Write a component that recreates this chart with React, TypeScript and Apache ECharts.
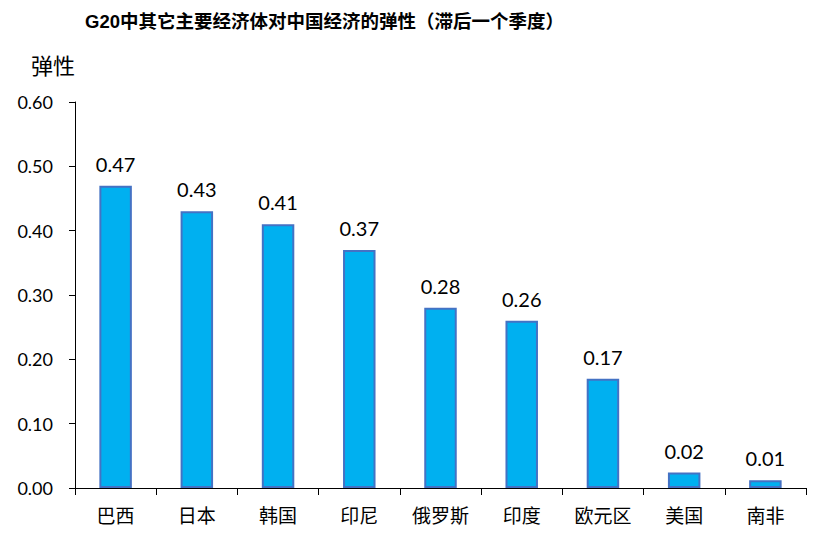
import * as React from "react";
import * as echarts from "echarts";

const CATEGORIES = ["巴西", "日本", "韩国", "印尼", "俄罗斯", "印度", "欧元区", "美国", "南非"];
const ELASTICITY = [0.47, 0.43, 0.41, 0.37, 0.28, 0.26, 0.17, 0.024, 0.012];
const Y_TICKS = { min: 0, max: 0.6, interval: 0.1 };

const TITLE = "G20中其它主要经济体对中国经济的弹性（滞后一个季度）";
const FONT = "Lato, 'Noto Sans CJK SC', sans-serif";
const CJK = "'Noto Sans CJK SC', sans-serif";

export default function App() {
  const ref = React.useRef<HTMLDivElement | null>(null);

  React.useEffect(() => {
    if (!ref.current) return;
    const chart = echarts.init(ref.current, undefined, { renderer: "svg" });
    chart.setOption({
      animation: false,
      backgroundColor: "#ffffff",
      textStyle: { fontFamily: FONT },
      title: {
        text: TITLE,
        left: 77,
        top: 4,
        padding: 0,
        textStyle: {
          fontFamily: "'Liberation Sans', 'Noto Sans CJK SC', sans-serif",
          fontWeight: "bold",
          fontSize: 18.5,
          color: "#000",
        },
      },
      grid: { left: 67, right: 9, top: 94, bottom: 46 },
      xAxis: {
        type: "category",
        data: CATEGORIES,
        axisLine: { lineStyle: { color: "#000", width: 1 } },
        axisTick: { show: true, length: 7, lineStyle: { color: "#000" } },
        axisLabel: { color: "#000", fontSize: 19, margin: 17, fontFamily: CJK },
      },
      yAxis: {
        type: "value",
        min: Y_TICKS.min,
        max: Y_TICKS.max,
        interval: Y_TICKS.interval,
        name: "弹性",
        nameLocation: "end",
        nameGap: 27,
        nameTextStyle: {
          color: "#000",
          fontSize: 22,
          align: "right",
          fontFamily: CJK,
        },
        axisLine: { show: true, lineStyle: { color: "#000" } },
        axisTick: { show: true, length: 6, lineStyle: { color: "#000" } },
        splitLine: { show: false },
        axisLabel: {
          color: "#000",
          fontSize: 18,
          margin: 22,
          formatter: (v: number) => v.toFixed(2),
        },
      },
      series: [
        {
          type: "bar",
          data: ELASTICITY,
          barWidth: "40%",
          itemStyle: { color: "#00B0F0", borderColor: "#4472C4", borderWidth: 2 },
          label: {
            show: true,
            position: "top",
            distance: 12,
            color: "#000",
            fontSize: 20,
            formatter: (p: { value: number }) => p.value.toFixed(2),
          },
        },
      ],
    });
    return () => chart.dispose();
  }, []);

  return <div ref={ref} style={{ width: 807, height: 526 }} />;
}
